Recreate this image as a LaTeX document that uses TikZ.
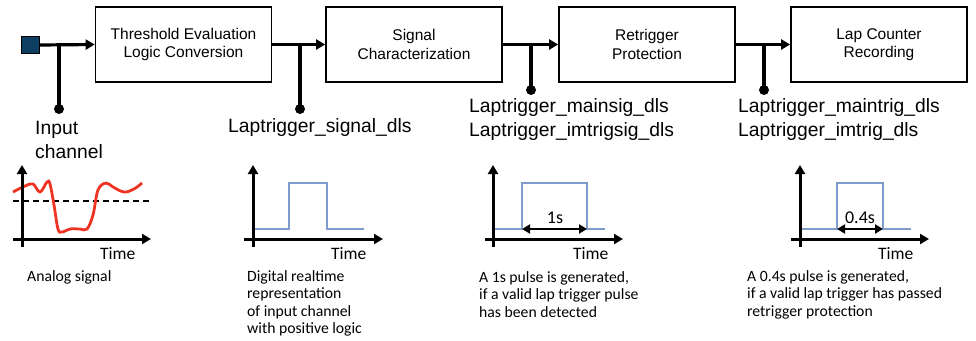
\documentclass[tikz,border=0pt]{standalone}
\usepackage{fontspec}
\setmainfont{Liberation Sans}
\newfontfamily\descfont{Carlito}
\usetikzlibrary{arrows.meta}
\definecolor{sqblue}{HTML}{0E3F63}
\definecolor{pulseblue}{HTML}{7F9CCB}
\definecolor{sigred}{HTML}{EE3524}
\tikzset{
  blockbox/.style={draw, line width=1.7pt, minimum width=176pt, minimum height=75pt, align=center, font=\fontsize{15.5}{18.5}\selectfont, inner sep=0pt},
  mainline/.style={line width=3.2pt},
  mainarrow/.style={line width=3.2pt, -{Triangle[length=9pt,width=10pt]}},
  dotnode/.style={circle, fill=black, inner sep=0pt, minimum size=10pt},
  siglabel/.style={anchor=west, align=left, inner sep=0pt, font=\fontsize{19.3}{24}\selectfont},
  axis/.style={line width=3pt, -{Triangle[length=9pt,width=10pt]}},
  pulse/.style={line width=2.8pt, pulseblue},
  timelabel/.style={anchor=west, inner sep=0pt, font=\descfont\fontsize{17.5}{20}\selectfont},
  durlabel/.style={inner sep=0pt, font=\descfont\fontsize{18}{20}\selectfont},
  desc/.style={anchor=west, align=left, inner sep=0pt, font=\descfont\fontsize{15.7}{17.5}\selectfont},
  durarrow/.style={line width=2.6pt, {Triangle[length=8pt,width=9pt]}-{Triangle[length=8pt,width=9pt]}}
}
\begin{document}
\begin{tikzpicture}[x=1pt,y=-1pt]
\useasboundingbox (0,0) rectangle (976,340);
% input square
\node[draw=black, fill=sqblue, line width=0.8pt, minimum width=18pt, minimum height=17pt, inner sep=0pt] (in) at (30.5,45) {};
% blocks
\node[blockbox] (b1) at (183.5,44.5) {Threshold Evaluation\\Logic Conversion};
\node[blockbox] (b2) at (414,44.5) {Signal\\Characterization};
\node[blockbox] (b3) at (647,44.5) {Retrigger\\Protection};
\node[blockbox] (b4) at (879,44.5) {Lap Counter\\Recording};
% main connectors
\draw[mainarrow] (in.east) -- (b1.west);
\draw[mainarrow] (b1.east) -- (b2.west);
\draw[mainarrow] (b2.east) -- (b3.west);
\draw[mainarrow] (b3.east) -- (b4.west);
% branches
\coordinate (j1) at (59,44.5);
\coordinate (j2) at (300,44.5);
\coordinate (j3) at (531,44.5);
\coordinate (j4) at (764,44.5);
\node[dotnode] (d1) at (59,109) {};
\node[dotnode] (d2) at (300,109) {};
\node[dotnode] (d3) at (531,90) {};
\node[dotnode] (d4) at (764,90) {};
\draw[mainline] (j1) -- (d1.center);
\draw[mainline] (j2) -- (d2.center);
\draw[mainline] (j3) -- (d3.center);
\draw[mainline] (j4) -- (d4.center);
% labels
\node[siglabel] (l1) at (35,140) {Input\\channel};
\node[siglabel] (l2) at (228,128) {Laptrigger\_signal\_dls};
\node[siglabel] (l3) at (469,120) {Laptrigger\_mainsig\_dls\\Laptrigger\_imtrigsig\_dls};
\node[siglabel] (l4) at (738,120) {Laptrigger\_maintrig\_dls\\Laptrigger\_imtrig\_dls};
% plot 1
\draw[line width=1.8pt, dashed, dash pattern=on 6pt off 4pt] (13,201) -- (152,201);
\draw[line width=2.8pt, sigred] plot[smooth, tension=0.6] coordinates {(13,192) (25,186) (33,184) (40,192) (47,182) (50,184) (54,205) (58,229) (62,232) (70,229) (80,229) (87,229) (93,215) (98,190) (106,183) (113,187) (124,192) (134,189) (142,183)};
\draw[axis] (22,247) -- (22,165);
\draw[axis] (13,239) -- (151,239);
\node[timelabel] (t1) at (100,254) {Time};
\node[desc] (c1) at (27,277) {Analog signal};
% plot 2
\draw[pulse] (253,229) -- (289,229) -- (289,183) -- (327,183) -- (327,229) -- (364,229);
\draw[axis] (253,247) -- (253,165);
\draw[axis] (244,239) -- (383,239);
\node[timelabel] (t2) at (331,254) {Time};
\node[desc] (c2) at (247,303.5) {Digital realtime\\representation\\of input channel\\with positive logic};
% plot 3
\draw[pulse] (493,229) -- (522,229) -- (522,183) -- (587,183) -- (587,229) -- (605,229);
\draw[axis] (493,247) -- (493,165);
\draw[axis] (485,239) -- (623,239);
\coordinate (p3a) at (522,229);
\coordinate (p3b) at (587,229);
\draw[durarrow] (p3a) -- (p3b);
\node[durlabel] (s3) at (555,218) {1s};
\node[timelabel] (t3) at (573,254) {Time};
\node[desc] (c3) at (479,294.5) {A 1s pulse is generated,\\if a valid lap trigger pulse\\has been detected};
% plot 4
\draw[pulse] (800,229) -- (837,229) -- (837,183) -- (883,183) -- (883,229) -- (911,229);
\draw[axis] (800,247) -- (800,165);
\draw[axis] (791,239) -- (929,239);
\coordinate (p4a) at (837,229);
\coordinate (p4b) at (883,229);
\draw[durarrow] (p4a) -- (p4b);
\node[durlabel] (s4) at (860,218) {0.4s};
\node[timelabel] (t4) at (878,254) {Time};
\node[desc] (c4) at (747,294.5) {A 0.4s pulse is generated,\\if a valid lap trigger has passed\\retrigger protection};
\end{tikzpicture}
\end{document}
